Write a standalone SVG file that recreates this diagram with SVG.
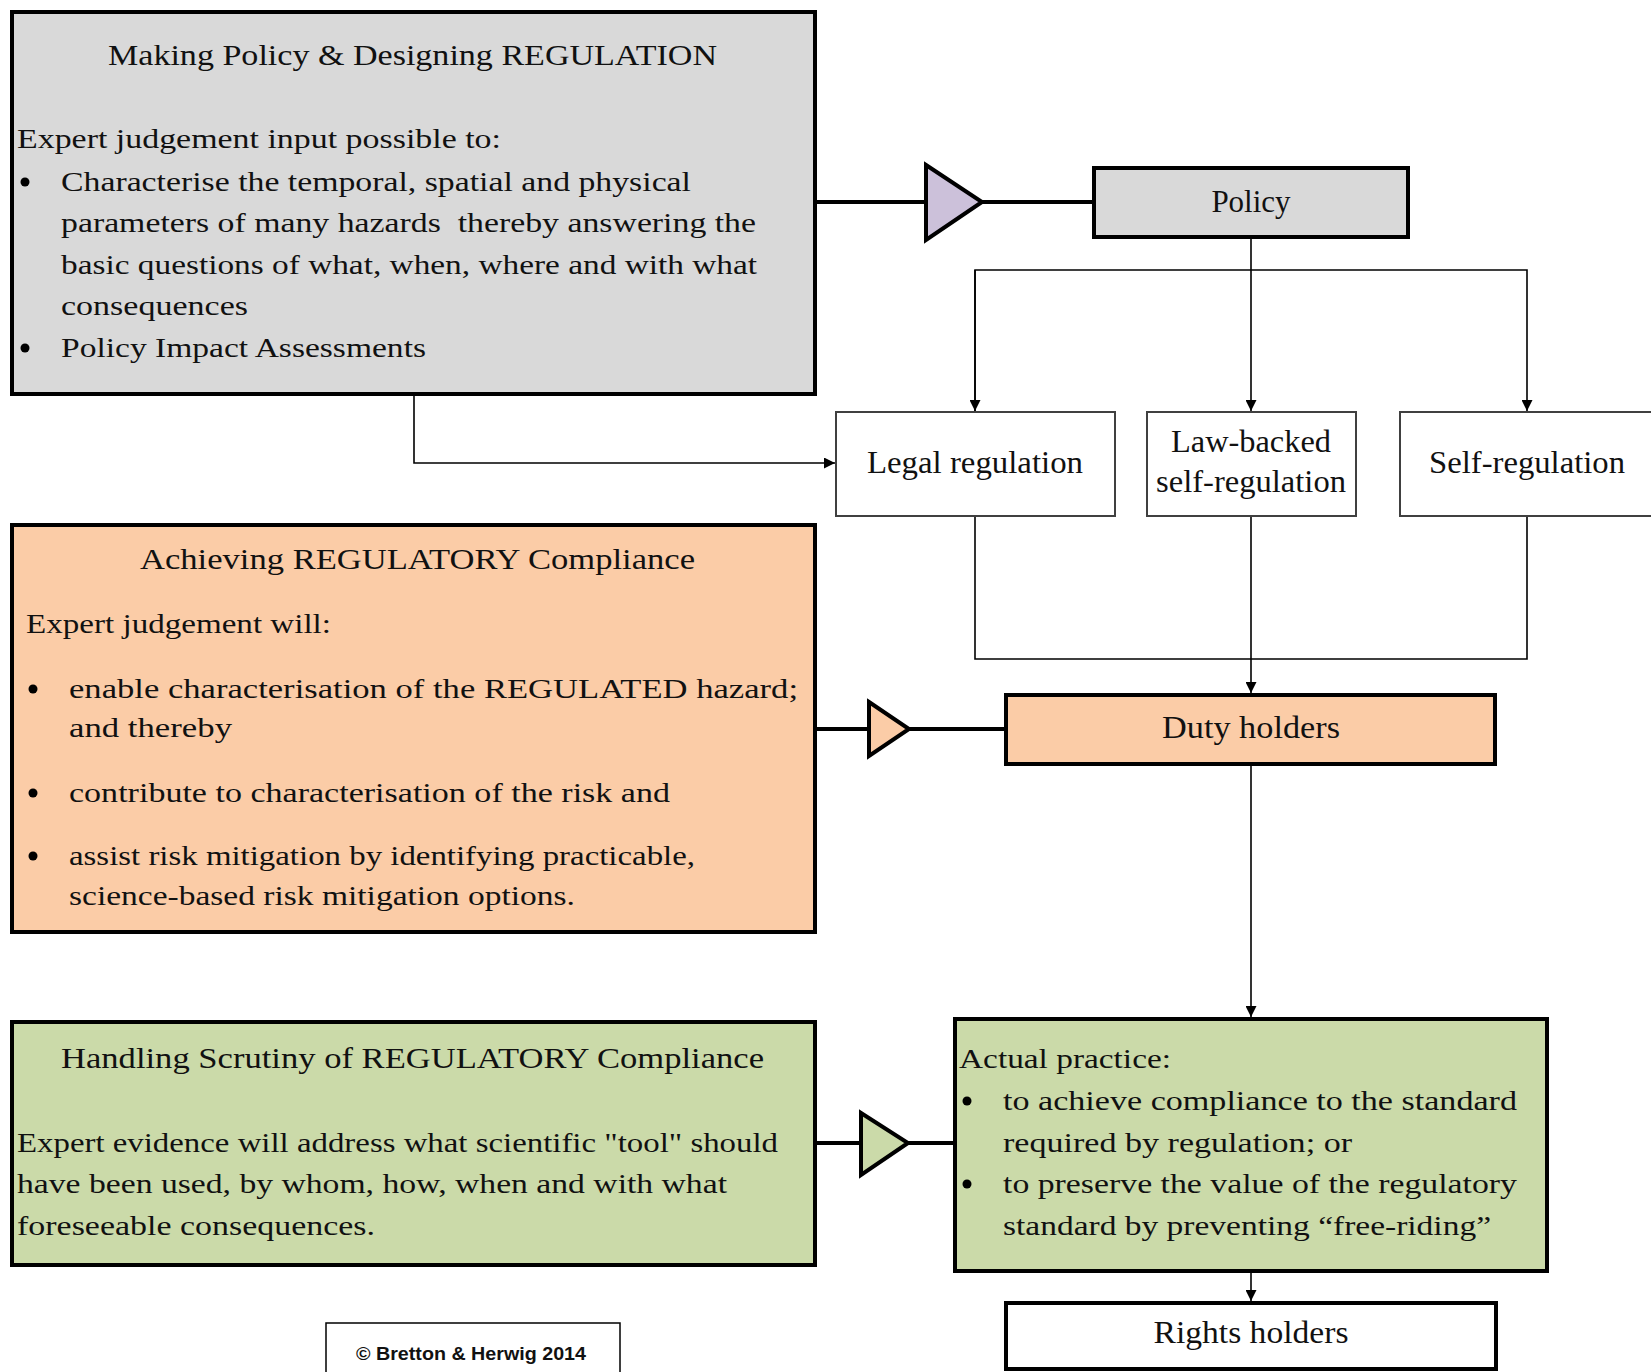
<svg xmlns="http://www.w3.org/2000/svg" width="1651" height="1372" viewBox="0 0 1651 1372">
  <style>
    .big { stroke: #000; stroke-width: 4; }
    .thin { fill: #fff; stroke: #404040; stroke-width: 2; }
    .t { font-family: "Liberation Serif", "Times New Roman", serif; fill: #111; }
    .title { font-size: 30px; }
    .body { font-size: 28px; }
    .lbl { font-size: 31px; text-anchor: middle; }
    .wire { fill: none; stroke: #000; stroke-width: 1.6; }
    .bar { fill: none; stroke: #000; stroke-width: 4; }
    .tri { stroke: #000; stroke-width: 4; stroke-linejoin: miter; }
    .gray { fill: #d9d9d9; }
    .orange { fill: #fbcca7; }
    .green { fill: #cbdaa9; }
    .lilac { fill: #ccc1da; }
  </style>
  <defs>
    <marker id="arr" viewBox="0 0 10 10" refX="10" refY="5" markerWidth="11" markerHeight="11" markerUnits="userSpaceOnUse" orient="auto">
      <path d="M0,0 L10,5 L0,10 z" fill="#000"/>
    </marker>
  </defs>

  <rect width="1651" height="1372" fill="#fff"/>

  <!-- connectors -->
  <g id="connectors">
    <!-- thick feeds from left panels into triangles and nodes -->
    <line class="bar" x1="816" y1="202" x2="926" y2="202"/>
    <line class="bar" x1="982" y1="202" x2="1094" y2="202"/>
    <line class="bar" x1="816" y1="729" x2="869" y2="729"/>
    <line class="bar" x1="909" y1="729" x2="1006" y2="729"/>
    <line class="bar" x1="816" y1="1143" x2="861" y2="1143"/>
    <line class="bar" x1="908" y1="1143" x2="955" y2="1143"/>
    <!-- Policy fan-out -->
    <line class="wire" x1="1251" y1="238" x2="1251" y2="411" marker-end="url(#arr)"/>
    <polyline class="wire" points="975,411 975,270 1527,270 1527,411" marker-end="url(#arr)"/>
    <line class="wire" x1="975" y1="270" x2="975" y2="411" marker-end="url(#arr)"/>
    <!-- design panel to legal regulation -->
    <polyline class="wire" points="414,395 414,463 835,463" marker-end="url(#arr)"/>
    <!-- regulation types gathered into duty holders -->
    <polyline class="wire" points="975,517 975,659 1527,659 1527,517"/>
    <line class="wire" x1="1251" y1="517" x2="1251" y2="693" marker-end="url(#arr)"/>
    <!-- duty holders to actual practice, then to rights holders -->
    <line class="wire" x1="1251" y1="765" x2="1251" y2="1017" marker-end="url(#arr)"/>
    <line class="wire" x1="1251" y1="1272" x2="1251" y2="1301" marker-end="url(#arr)"/>
  </g>

  <!-- triangles -->
  <polygon class="tri lilac" points="926,165 982,202 926,240"/>
  <polygon class="tri orange" points="869,702 909,729 869,756"/>
  <polygon class="tri green" points="861,1113 908,1143 861,1175"/>

  <g id="design-panel">
    <rect class="big gray" x="12" y="12" width="803" height="382"/>
    <text class="t title" x="108" y="65" textLength="609" lengthAdjust="spacingAndGlyphs">Making Policy &amp; Designing REGULATION</text>
    <text class="t body" x="17" y="148" textLength="484" lengthAdjust="spacingAndGlyphs">Expert judgement input possible to:</text>
    <circle cx="25" cy="182" r="4.5" fill="#000"/>
    <text class="t body" x="61" y="191" textLength="630" lengthAdjust="spacingAndGlyphs">Characterise the temporal, spatial and physical</text>
    <text class="t body" x="61" y="232" textLength="695" lengthAdjust="spacingAndGlyphs" xml:space="preserve">parameters of many hazards  thereby answering the</text>
    <text class="t body" x="61" y="274" textLength="696" lengthAdjust="spacingAndGlyphs">basic questions of what, when, where and with what</text>
    <text class="t body" x="61" y="315" textLength="187" lengthAdjust="spacingAndGlyphs">consequences</text>
    <circle cx="25" cy="348" r="4.5" fill="#000"/>
    <text class="t body" x="61" y="357" textLength="365" lengthAdjust="spacingAndGlyphs">Policy Impact Assessments</text>
  </g>

  <g id="policy">
    <rect class="big gray" x="1094" y="168" width="314" height="69"/>
    <text class="t lbl" x="1251" y="212">Policy</text>
  </g>

  <g id="legal-regulation">
    <rect class="thin" x="836" y="412" width="279" height="104"/>
    <text class="t lbl" x="975" y="473" textLength="216" lengthAdjust="spacingAndGlyphs">Legal regulation</text>
  </g>

  <g id="law-backed-self-regulation">
    <rect class="thin" x="1147" y="412" width="209" height="104"/>
    <text class="t lbl" x="1251" y="452" textLength="160" lengthAdjust="spacingAndGlyphs">Law-backed</text>
    <text class="t lbl" x="1251" y="492" textLength="190" lengthAdjust="spacingAndGlyphs">self-regulation</text>
  </g>

  <g id="self-regulation">
    <rect class="thin" x="1400" y="412" width="270" height="104"/>
    <text class="t lbl" x="1527" y="473" textLength="196" lengthAdjust="spacingAndGlyphs">Self-regulation</text>
  </g>

  <g id="compliance-panel">
    <rect class="big orange" x="12" y="525" width="803" height="407"/>
    <text class="t title" x="140" y="569" textLength="555" lengthAdjust="spacingAndGlyphs">Achieving REGULATORY Compliance</text>
    <text class="t body" x="26" y="633" textLength="305" lengthAdjust="spacingAndGlyphs">Expert judgement will:</text>
    <circle cx="33" cy="689" r="4.5" fill="#000"/>
    <text class="t body" x="69" y="698" textLength="729" lengthAdjust="spacingAndGlyphs">enable characterisation of the REGULATED hazard;</text>
    <text class="t body" x="69" y="737" textLength="163" lengthAdjust="spacingAndGlyphs">and thereby</text>
    <circle cx="33" cy="793" r="4.5" fill="#000"/>
    <text class="t body" x="69" y="802" textLength="601" lengthAdjust="spacingAndGlyphs">contribute to characterisation of the risk and</text>
    <circle cx="33" cy="856" r="4.5" fill="#000"/>
    <text class="t body" x="69" y="865" textLength="626" lengthAdjust="spacingAndGlyphs">assist risk mitigation by identifying practicable,</text>
    <text class="t body" x="69" y="905" textLength="506" lengthAdjust="spacingAndGlyphs">science-based risk mitigation options.</text>
  </g>

  <g id="duty-holders">
    <rect class="big orange" x="1006" y="695" width="489" height="69"/>
    <text class="t lbl" x="1251" y="738" textLength="178" lengthAdjust="spacingAndGlyphs">Duty holders</text>
  </g>

  <g id="scrutiny-panel">
    <rect class="big green" x="12" y="1022" width="803" height="243"/>
    <text class="t title" x="61" y="1068" textLength="703" lengthAdjust="spacingAndGlyphs">Handling Scrutiny of REGULATORY Compliance</text>
    <text class="t body" x="17" y="1152" textLength="761" lengthAdjust="spacingAndGlyphs">Expert evidence will address what scientific "tool" should</text>
    <text class="t body" x="17" y="1193" textLength="710" lengthAdjust="spacingAndGlyphs">have been used, by whom, how, when and with what</text>
    <text class="t body" x="17" y="1235" textLength="358" lengthAdjust="spacingAndGlyphs">foreseeable consequences.</text>
  </g>

  <g id="actual-practice">
    <rect class="big green" x="955" y="1019" width="592" height="252"/>
    <text class="t body" x="959" y="1068" textLength="212" lengthAdjust="spacingAndGlyphs">Actual practice:</text>
    <circle cx="967" cy="1101" r="4.5" fill="#000"/>
    <text class="t body" x="1003" y="1110" textLength="514" lengthAdjust="spacingAndGlyphs">to achieve compliance to the standard</text>
    <text class="t body" x="1003" y="1152" textLength="349" lengthAdjust="spacingAndGlyphs">required by regulation; or</text>
    <circle cx="967" cy="1184" r="4.5" fill="#000"/>
    <text class="t body" x="1003" y="1193" textLength="514" lengthAdjust="spacingAndGlyphs">to preserve the value of the regulatory</text>
    <text class="t body" x="1003" y="1235" textLength="488" lengthAdjust="spacingAndGlyphs">standard by preventing “free-riding”</text>
  </g>

  <g id="rights-holders">
    <rect class="big" fill="#fff" x="1006" y="1303" width="490" height="66"/>
    <text class="t lbl" x="1251" y="1343" textLength="195" lengthAdjust="spacingAndGlyphs">Rights holders</text>
  </g>

  <g id="copyright">
    <rect fill="#fff" stroke="#000" stroke-width="1.5" x="326" y="1323" width="294" height="60"/>
    <text x="356" y="1360" font-family="Liberation Sans, Arial, sans-serif" font-weight="bold" font-size="18" fill="#111" textLength="230" lengthAdjust="spacingAndGlyphs">© Bretton &amp; Herwig 2014</text>
  </g>
</svg>
